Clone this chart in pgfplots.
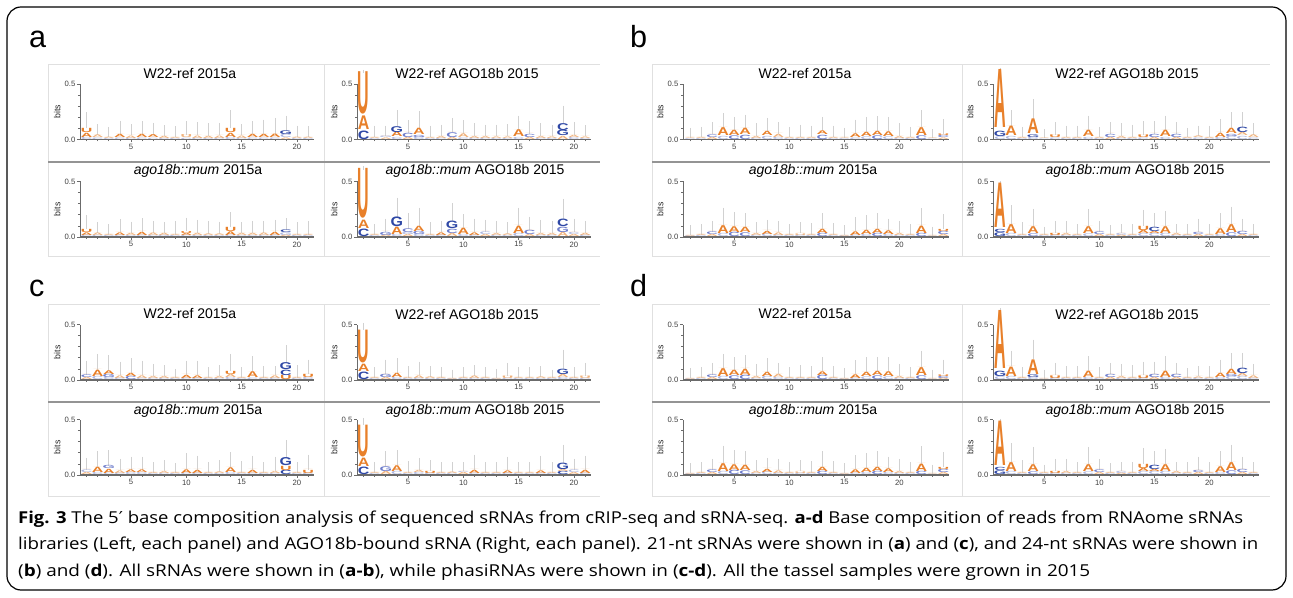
\documentclass[border=0pt]{standalone}
\usepackage{fontspec}
\setmainfont{Liberation Sans}
\newfontfamily\capfont{Open Sans}
\newfontfamily\djv{DejaVu Sans}
\usepackage{graphicx}
\usepackage{pgfplots}
\usepackage{pgfplotstable}
\pgfplotsset{compat=1.18}

\definecolor{logoO}{HTML}{E8802A}
\definecolor{logoB}{HTML}{2E47A5}
\definecolor{logoP}{HTML}{F0B27C}
\definecolor{logoL}{HTML}{AEB6DE}
\definecolor{logoM}{HTML}{6F7DCB}
\newcommand{\deflg}[2]{\expandafter\def\csname lg#1#2\endcsname{\textcolor{logo#2}{#1}}}
\deflg{A}{O}\deflg{A}{B}\deflg{A}{P}\deflg{A}{L}\deflg{A}{M}
\deflg{C}{O}\deflg{C}{B}\deflg{C}{P}\deflg{C}{L}\deflg{C}{M}
\deflg{G}{O}\deflg{G}{B}\deflg{G}{P}\deflg{G}{L}\deflg{G}{M}
\deflg{U}{O}\deflg{U}{B}\deflg{U}{P}\deflg{U}{L}\deflg{U}{M}

\pgfplotsset{
 logo/.style={
  scale only axis, height=55.5pt, ymin=0, ymax=0.5, clip=false,
  axis x line*=bottom, axis y line*=left,
  axis line style={-, draw=black!58},
  x axis line style={line width=1.6pt},
  y axis line style={line width=0.8pt},
  ytick={0,0.5}, yticklabels={0.0,0.5}, minor ytick={0.1,0.2,0.3,0.4},
  xtick={5,10,15,20}, xticklabels={5,10,15,20}, minor xtick={1,...,24},
  tick align=outside, major tick length=3pt, minor tick length=2pt,
  every tick/.style={draw=black!58, line width=0.6pt},
  /pgf/number format/assume math mode=true,
  ticklabel style={font=\fontsize{7.7}{8}\selectfont, text=black!75, inner sep=1.5pt},
  ylabel={bits}, ylabel style={font=\fontsize{8.8}{9}\selectfont, text=black!85, yshift=-1pt},
 }
}

\newcommand{\logolayer}[3]{%
 \addplot[draw=none, no markers, point meta=explicit symbolic,
   visualization depends on={\thisrow{h#3}\as\logoH},
   nodes near coords={\csname lg\pgfplotspointmeta\endcsname},
   every node near coord/.append style={anchor=north, inner sep=0pt, outer sep=0pt,
     font=\fontsize{10}{10}\selectfont\bfseries, xscale=1.6, yscale=15.2*\logoH}]
   table[x=x, y expr={#2}, meta=k#3] {#1};
}
\newcommand{\logoplot}[6]{%
\begin{axis}[logo, at={(#1pt,597pt-#2pt)}, anchor=south west, xmin=#3, xmax=#4, width=#5pt]
\addplot[draw=none, no markers, forget plot,
  error bars/.cd, y dir=plus, y explicit,
  error bar style={draw=black!18, line width=0.7pt},
  error mark=-, error mark options={draw=black!18, mark size=1.6pt, line width=0.6pt}]
  table[x=x, y expr=\thisrow{h1}+\thisrow{h2}+\thisrow{h3},
        y error expr=\thisrow{e}-\thisrow{h1}-\thisrow{h2}-\thisrow{h3}] {#6};
\logolayer{#6}{\thisrow{h1}}{1}
\logolayer{#6}{\thisrow{h1}+\thisrow{h2}}{2}
\logolayer{#6}{\thisrow{h1}+\thisrow{h2}+\thisrow{h3}}{3}
\end{axis}}

\pgfplotstableread{
x h1 k1 h2 k2 h3 k3 e
1 0.02 CL 0.04 AO 0.04 UO 0.23
2 0.015 CL 0.025 AP 0.002 AP 0.125
3 0.01 CL 0.012 AP 0.002 AP 0.10
4 0.015 CL 0.03 AO 0.002 AP 0.155
5 0.012 CL 0.023 AP 0.002 AP 0.125
6 0.015 CL 0.03 AO 0.002 AP 0.15
7 0.012 CL 0.028 AO 0.002 AP 0.135
8 0.01 CL 0.02 AP 0.002 AP 0.115
9 0.01 CL 0.01 AP 0.002 AP 0.105
10 0.012 CL 0.028 UP 0.002 AP 0.15
11 0.012 CL 0.023 AP 0.002 AP 0.14
12 0.01 CL 0.02 AP 0.002 AP 0.13
13 0.012 CL 0.023 AP 0.002 AP 0.135
14 0.02 CL 0.04 AO 0.04 UO 0.25
15 0.012 CL 0.023 AP 0.002 AP 0.125
16 0.015 CL 0.03 AO 0.002 AP 0.15
17 0.015 CL 0.03 AO 0.002 AP 0.165
18 0.015 CL 0.032 AO 0.002 AP 0.18
19 0.015 AP 0.03 CL 0.035 GB 0.2
20 0.01 CL 0.012 AP 0.002 AP 0.11
21 0.01 CL 0.012 AP 0.002 AP 0.105
}\tAtl
\pgfplotstableread{
x h1 k1 h2 k2 h3 k3 e
1 0.015 CL 0.025 AO 0.03 UO 0.18
2 0.012 CL 0.023 AP 0.002 AP 0.12
3 0.01 CL 0.01 AP 0.002 AP 0.10
4 0.015 CL 0.025 AO 0.002 AP 0.145
5 0.01 CL 0.02 AP 0.002 AP 0.125
6 0.015 CL 0.03 AO 0.002 AP 0.155
7 0.012 CL 0.023 AP 0.002 AP 0.13
8 0.015 GL 0.02 AP 0.002 AP 0.12
9 0.01 CL 0.01 AP 0.002 AP 0.13
10 0.012 CL 0.02 AO 0.018 UO 0.16
11 0.01 CL 0.02 AP 0.002 AP 0.14
12 0.01 CL 0.015 AP 0.002 AP 0.13
13 0.01 CL 0.015 AP 0.002 AP 0.125
14 0.015 CL 0.035 AO 0.04 UO 0.21
15 0.01 CL 0.02 AP 0.002 AP 0.12
16 0.01 CL 0.02 AP 0.002 AP 0.13
17 0.012 CL 0.023 AP 0.002 AP 0.13
18 0.015 CL 0.03 AO 0.002 AP 0.14
19 0.015 AP 0.025 GL 0.025 CB 0.155
20 0.01 CL 0.01 AP 0.002 AP 0.12
21 0.01 CL 0.01 AP 0.002 AP 0.13
}\tAbl
\pgfplotstableread{
x h1 k1 h2 k2 h3 k3 e
1 0.08 CB 0.13 AO 0.40 UO 0.612
2 0.01 CL 0.01 AP 0.002 AP 0.11
3 0.015 AP 0.015 GL 0.002 AP 0.11
4 0.02 CL 0.045 AO 0.055 GB 0.25
5 0.02 AP 0.04 CM 0.002 AP 0.16
6 0.02 CL 0.02 GM 0.06 AO 0.24
7 0.01 CL 0.01 AP 0.002 AP 0.11
8 0.012 CL 0.018 AP 0.002 AP 0.12
9 0.02 AP 0.045 CM 0.002 AP 0.18
10 0.015 CL 0.035 AP 0.002 AP 0.16
11 0.012 CL 0.018 AP 0.002 AP 0.13
12 0.012 CL 0.018 AP 0.002 AP 0.12
13 0.01 CL 0.015 AP 0.002 AP 0.12
14 0.01 CL 0.015 AP 0.002 AP 0.125
15 0.02 CL 0.065 AO 0.002 AP 0.20
16 0.02 AP 0.03 CM 0.002 AP 0.15
17 0.012 CL 0.018 AP 0.002 AP 0.13
18 0.01 CL 0.015 AP 0.002 AP 0.12
19 0.03 AP 0.05 GB 0.065 CB 0.29
20 0.02 CL 0.02 AP 0.002 AP 0.14
21 0.01 CL 0.015 AP 0.002 AP 0.115
}\tAtr
\pgfplotstableread{
x h1 k1 h2 k2 h3 k3 e
1 0.07 CB 0.08 AO 0.47 UO 0.622
2 0.01 CL 0.01 AP 0.002 AP 0.10
3 0.015 AP 0.03 GM 0.002 AP 0.15
4 0.02 CL 0.07 AO 0.09 GB 0.34
5 0.02 AP 0.02 GL 0.035 CM 0.2
6 0.02 CL 0.03 GM 0.05 AO 0.25
7 0.01 CL 0.01 AP 0.002 AP 0.12
8 0.015 CL 0.025 AO 0.002 AP 0.13
9 0.03 AP 0.04 CM 0.07 GB 0.29
10 0.02 CL 0.06 AO 0.002 AP 0.19
11 0.015 CL 0.025 AO 0.002 AP 0.15
12 0.02 AP 0.025 CL 0.002 AP 0.14
13 0.012 CL 0.018 AP 0.002 AP 0.13
14 0.01 CL 0.015 AP 0.002 AP 0.12
15 0.03 CL 0.07 AO 0.002 AP 0.25
16 0.02 AP 0.04 CM 0.002 AP 0.17
17 0.012 CL 0.018 AP 0.002 AP 0.14
18 0.012 CL 0.018 AP 0.002 AP 0.13
19 0.04 AP 0.05 GM 0.07 CB 0.33
20 0.02 AP 0.02 CL 0.002 AP 0.15
21 0.015 CL 0.02 AP 0.002 AP 0.13
}\tAbr
\pgfplotstableread{
x h1 k1 h2 k2 h3 k3 e
1 0.008 CL 0.007 AP 0.002 AP 0.09
2 0.01 CL 0.01 AP 0.002 AP 0.10
3 0.02 AP 0.025 CM 0.002 AP 0.14
4 0.03 CL 0.075 AO 0.002 AP 0.22
5 0.035 CM 0.05 AO 0.002 AP 0.19
6 0.04 CM 0.06 AO 0.002 AP 0.21
7 0.012 CL 0.018 AP 0.002 AP 0.13
8 0.03 CL 0.04 AO 0.002 AP 0.18
9 0.02 CL 0.03 AP 0.002 AP 0.14
10 0.01 CL 0.01 AP 0.002 AP 0.10
11 0.01 CL 0.01 AP 0.002 AP 0.12
12 0.01 CL 0.01 AP 0.002 AP 0.11
13 0.04 CM 0.035 AO 0.002 AP 0.19
14 0.01 CL 0.01 AP 0.002 AP 0.11
15 0.008 CL 0.007 AP 0.002 AP 0.09
16 0.015 CL 0.035 AO 0.002 AP 0.165
17 0.025 CL 0.04 AO 0.002 AP 0.19
18 0.035 CM 0.04 AO 0.002 AP 0.195
19 0.025 CL 0.045 AO 0.002 AP 0.19
20 0.012 CL 0.018 AP 0.002 AP 0.13
21 0.01 CL 0.01 AP 0.002 AP 0.10
22 0.035 CM 0.075 AO 0.002 AP 0.25
23 0.005 CL 0.005 AP 0.002 AP 0.08
24 0.015 AP 0.02 CM 0.015 UO 0.17
}\tBtl
\pgfplotstableread{
x h1 k1 h2 k2 h3 k3 e
1 0.008 CL 0.007 AP 0.002 AP 0.09
2 0.01 CL 0.01 AP 0.002 AP 0.10
3 0.02 AP 0.025 CM 0.002 AP 0.13
4 0.03 CL 0.075 AO 0.002 AP 0.25
5 0.04 CM 0.055 AO 0.002 AP 0.21
6 0.035 CM 0.05 AO 0.002 AP 0.20
7 0.012 CL 0.018 AP 0.002 AP 0.12
8 0.025 CL 0.03 AO 0.002 AP 0.14
9 0.015 CL 0.025 AP 0.002 AP 0.13
10 0.01 CL 0.01 AP 0.002 AP 0.10
11 0.015 CL 0.015 UP 0.002 AP 0.12
12 0.01 CL 0.01 AP 0.002 AP 0.11
13 0.03 CM 0.04 AO 0.002 AP 0.20
14 0.01 CL 0.01 AP 0.002 AP 0.11
15 0.008 CL 0.007 AP 0.002 AP 0.09
16 0.015 CL 0.035 AO 0.002 AP 0.165
17 0.02 CL 0.04 AO 0.002 AP 0.18
18 0.03 CM 0.04 AO 0.002 AP 0.20
19 0.02 CL 0.035 AO 0.002 AP 0.15
20 0.012 CL 0.018 AP 0.002 AP 0.13
21 0.01 CL 0.01 AP 0.002 AP 0.10
22 0.03 CM 0.07 AO 0.002 AP 0.245
23 0.005 CL 0.005 AP 0.002 AP 0.08
24 0.02 AP 0.03 CM 0.02 UO 0.19
}\tBbl
\pgfplotstableread{
x h1 k1 h2 k2 h3 k3 e
1 0.025 CL 0.05 GB 0.555 AO 0.631
2 0.03 CL 0.09 AO 0.002 AP 0.25
3 0.01 CL 0.01 AP 0.002 AP 0.10
4 0.02 CL 0.025 GB 0.14 AO 0.35
5 0.005 CL 0.005 AP 0.002 AP 0.08
6 0.015 CL 0.025 UO 0.002 AP 0.14
7 0.01 CL 0.01 AP 0.002 AP 0.11
8 0.01 CL 0.01 AP 0.002 AP 0.11
9 0.02 CL 0.06 AO 0.002 AP 0.20
10 0.01 CL 0.01 AP 0.002 AP 0.10
11 0.02 AP 0.03 CM 0.002 AP 0.14
12 0.012 CL 0.018 AP 0.002 AP 0.13
13 0.01 CL 0.01 AP 0.002 AP 0.12
14 0.015 CL 0.025 UO 0.002 AP 0.15
15 0.02 AP 0.03 CM 0.002 AP 0.15
16 0.02 CL 0.06 AO 0.002 AP 0.20
17 0.02 AP 0.03 CM 0.002 AP 0.14
18 0.01 CL 0.01 AP 0.002 AP 0.09
19 0.015 CL 0.015 AP 0.002 AP 0.11
20 0.01 CL 0.01 AP 0.002 AP 0.11
21 0.02 CL 0.04 AO 0.002 AP 0.17
22 0.03 CL 0.02 GM 0.05 AO 0.23
23 0.03 CL 0.03 AP 0.05 CB 0.23
24 0.015 CL 0.025 AP 0.002 AP 0.13
}\tBtr
\pgfplotstableread{
x h1 k1 h2 k2 h3 k3 e
1 0.035 GB 0.03 CB 0.425 AO 0.491
2 0.03 CL 0.085 AO 0.002 AP 0.27
3 0.01 CL 0.01 AP 0.002 AP 0.12
4 0.025 CM 0.065 AO 0.002 AP 0.24
5 0.01 CL 0.01 AP 0.002 AP 0.08
6 0.015 CL 0.02 UO 0.002 AP 0.13
7 0.012 CL 0.018 AP 0.002 AP 0.13
8 0.01 CL 0.01 AP 0.002 AP 0.10
9 0.025 CL 0.065 AO 0.002 AP 0.24
10 0.02 AP 0.025 CM 0.002 AP 0.13
11 0.01 CL 0.01 AP 0.002 AP 0.09
12 0.015 AP 0.02 CL 0.002 AP 0.10
13 0.01 CL 0.01 AP 0.002 AP 0.10
14 0.03 CL 0.03 AO 0.04 UO 0.23
15 0.03 CL 0.02 AO 0.04 CB 0.20
16 0.03 CL 0.065 AO 0.002 AP 0.22
17 0.012 CL 0.018 AP 0.002 AP 0.10
18 0.01 CL 0.01 AP 0.002 AP 0.10
19 0.02 AP 0.02 CM 0.002 AP 0.15
20 0.01 CL 0.01 AP 0.002 AP 0.10
21 0.02 CL 0.055 AO 0.002 AP 0.20
22 0.035 CM 0.075 AO 0.002 AP 0.26
23 0.02 AP 0.03 CM 0.002 AP 0.15
24 0.01 CL 0.01 AP 0.002 AP 0.10
}\tBbr
\pgfplotstableread{
x h1 k1 h2 k2 h3 k3 e
1 0.02 AP 0.025 CM 0.002 AP 0.16
2 0.03 CL 0.06 AO 0.002 AP 0.22
3 0.02 CL 0.03 GM 0.035 AO 0.21
4 0.015 CL 0.025 AP 0.002 AP 0.15
5 0.03 CM 0.03 AO 0.002 AP 0.18
6 0.015 CL 0.025 AP 0.002 AP 0.16
7 0.012 CL 0.018 AP 0.002 AP 0.13
8 0.012 CL 0.018 AP 0.002 AP 0.12
9 0.01 CL 0.01 AP 0.002 AP 0.085
10 0.015 CL 0.03 AO 0.002 AP 0.16
11 0.015 CL 0.025 AO 0.002 AP 0.16
12 0.01 CL 0.01 AP 0.002 AP 0.10
13 0.012 CL 0.018 AP 0.002 AP 0.12
14 0.02 CL 0.03 AP 0.03 UO 0.22
15 0.01 CL 0.01 AP 0.002 AP 0.10
16 0.015 CL 0.055 AO 0.002 AP 0.20
17 0.01 CL 0.01 AP 0.002 AP 0.11
18 0.015 CL 0.025 AP 0.002 AP 0.11
19 0.04 UO 0.05 CB 0.065 GB 0.30
20 0.01 CL 0.01 AP 0.002 AP 0.12
21 0.02 CL 0.03 UO 0.002 AP 0.17
}\tCtl
\pgfplotstableread{
x h1 k1 h2 k2 h3 k3 e
1 0.02 AP 0.025 CL 0.002 AP 0.14
2 0.02 CL 0.05 AO 0.002 AP 0.20
3 0.015 CL 0.04 AO 0.03 GM 0.21
4 0.015 CL 0.025 AP 0.002 AP 0.13
5 0.02 CL 0.025 AO 0.002 AP 0.15
6 0.02 CL 0.025 AO 0.002 AP 0.15
7 0.01 CL 0.01 AP 0.002 AP 0.10
8 0.012 CL 0.018 AP 0.002 AP 0.12
9 0.01 CL 0.01 AP 0.002 AP 0.09
10 0.015 CL 0.035 AO 0.002 AP 0.18
11 0.015 CL 0.03 AO 0.002 AP 0.16
12 0.01 CL 0.01 AP 0.002 AP 0.10
13 0.01 CL 0.015 AP 0.002 AP 0.12
14 0.02 CL 0.045 AO 0.002 AP 0.19
15 0.01 CL 0.01 AP 0.002 AP 0.11
16 0.015 CL 0.03 AO 0.002 AP 0.16
17 0.01 CL 0.01 AP 0.002 AP 0.10
18 0.012 CL 0.018 AP 0.002 AP 0.15
19 0.04 CB 0.04 UO 0.075 GB 0.30
20 0.01 CL 0.01 AP 0.002 AP 0.10
21 0.015 CL 0.03 UO 0.002 AP 0.17
}\tCbl
\pgfplotstableread{
x h1 k1 h2 k2 h3 k3 e
1 0.07 CB 0.07 AO 0.31 UO 0.50
2 0.01 CL 0.01 AP 0.002 AP 0.10
3 0.02 AP 0.03 GM 0.002 AP 0.17
4 0.02 CL 0.04 AO 0.002 AP 0.18
5 0.01 CL 0.01 AP 0.002 AP 0.11
6 0.015 CL 0.025 AP 0.002 AP 0.15
7 0.01 CL 0.015 AP 0.002 AP 0.11
8 0.01 CL 0.01 AP 0.002 AP 0.10
9 0.008 CL 0.007 AP 0.002 AP 0.08
10 0.01 CL 0.01 AP 0.002 AP 0.10
11 0.012 CL 0.023 AP 0.002 AP 0.12
12 0.01 CL 0.01 AP 0.002 AP 0.10
13 0.008 CL 0.007 AP 0.002 AP 0.085
14 0.012 CL 0.023 UP 0.002 AP 0.14
15 0.01 CL 0.01 AP 0.002 AP 0.10
16 0.01 CL 0.01 AP 0.002 AP 0.10
17 0.01 CL 0.015 AP 0.002 AP 0.11
18 0.01 CL 0.01 AP 0.002 AP 0.08
19 0.02 CL 0.03 AP 0.05 GB 0.26
20 0.01 CL 0.01 AP 0.002 AP 0.10
21 0.012 CL 0.023 UP 0.002 AP 0.14
}\tCtr
\pgfplotstableread{
x h1 k1 h2 k2 h3 k3 e
1 0.07 CB 0.08 AO 0.30 UO 0.50
2 0.01 CL 0.01 AP 0.002 AP 0.10
3 0.03 AP 0.045 GM 0.002 AP 0.20
4 0.03 CL 0.055 AO 0.002 AP 0.21
5 0.01 CL 0.01 AP 0.002 AP 0.11
6 0.02 CL 0.02 AP 0.002 AP 0.14
7 0.015 CL 0.02 UO 0.002 AP 0.12
8 0.01 CL 0.01 AP 0.002 AP 0.10
9 0.012 CL 0.013 AP 0.002 AP 0.10
10 0.02 AP 0.01 CL 0.002 AP 0.10
11 0.015 CL 0.03 AO 0.002 AP 0.17
12 0.01 CL 0.01 AP 0.002 AP 0.10
13 0.01 CL 0.01 AP 0.002 AP 0.10
14 0.015 CL 0.025 AO 0.002 AP 0.15
15 0.01 CL 0.01 AP 0.002 AP 0.10
16 0.01 CL 0.01 AP 0.002 AP 0.10
17 0.015 CL 0.025 AO 0.002 AP 0.16
18 0.01 CL 0.01 AP 0.002 AP 0.10
19 0.03 CB 0.02 AP 0.06 GB 0.26
20 0.02 AP 0.025 CL 0.002 AP 0.13
21 0.015 CL 0.03 AO 0.002 AP 0.16
}\tCbr

\newcommand{\ttl}[3]{\node[font=\fontsize{14}{15}\selectfont, inner sep=0pt] at (#1pt,597pt-#2pt) {#3};}
\newcommand{\plab}[3]{\node[anchor=base west, inner sep=0pt, font=\fontsize{30.6}{31}\selectfont] at (#1pt,597pt-#2pt) {#3};}
\newcommand{\frames}[5]{%
  \draw[black!12, line width=1pt] (#1pt,#4pt) -- (#3pt,#4pt);
  \draw[black!12, line width=1pt] (#1pt,#4pt) -- (#1pt,#4pt-192pt) -- (#3pt,#4pt-192pt);
  \draw[black!12, line width=1pt] (#2pt,#4pt) -- (#2pt,#4pt-192pt);
  \draw[black!42, line width=2.2pt] (#1pt,#5pt) -- (#3pt,#5pt);
}

\begin{document}
\begin{tikzpicture}
\useasboundingbox (0,0) rectangle (1293pt,597pt);
\draw[line width=1.2pt, rounded corners=14pt] (7pt,7pt) rectangle (1286pt,590pt);
\frames{48}{324}{600}{532}{435}
\frames{652}{962}{1270}{532}{435}
\frames{48}{324}{600}{292}{195}
\frames{652}{962}{1270}{292}{195}

\logoplot{80}{139.5}{0.4}{21.5}{233.6}{\tAtl}
\logoplot{357}{139.5}{0.4}{21.5}{233.6}{\tAtr}
\logoplot{80}{237}{0.4}{21.5}{233.6}{\tAbl}
\logoplot{357}{237}{0.4}{21.5}{233.6}{\tAbr}
\logoplot{683}{139.5}{0.35}{24.5}{266}{\tBtl}
\logoplot{993}{139.5}{0.35}{24.5}{266}{\tBtr}
\logoplot{683}{237}{0.35}{24.5}{266}{\tBbl}
\logoplot{993}{237}{0.35}{24.5}{266}{\tBbr}
\logoplot{80}{380}{0.4}{21.5}{233.6}{\tCtl}
\logoplot{357}{380}{0.4}{21.5}{233.6}{\tCtr}
\logoplot{80}{475}{0.4}{21.5}{233.6}{\tCbl}
\logoplot{357}{475}{0.4}{21.5}{233.6}{\tCbr}
\logoplot{683}{380}{0.35}{24.5}{266}{\tBtl}
\logoplot{993}{380}{0.35}{24.5}{266}{\tBtr}
\logoplot{683}{475}{0.35}{24.5}{266}{\tBbl}
\logoplot{993}{475}{0.35}{24.5}{266}{\tBbr}

\ttl{190}{74}{W22-ref 2015a}
\ttl{467}{74}{W22-ref AGO18b 2015}
\ttl{198}{171}{\textit{ago18b::mum} 2015a}
\ttl{475}{171}{\textit{ago18b::mum} AGO18b 2015}
\ttl{805}{74}{W22-ref 2015a}
\ttl{1127}{74}{W22-ref AGO18b 2015}
\ttl{813}{171}{\textit{ago18b::mum} 2015a}
\ttl{1135}{171}{\textit{ago18b::mum} AGO18b 2015}
\ttl{190}{314}{W22-ref 2015a}
\ttl{467}{314}{W22-ref AGO18b 2015}
\ttl{198}{411}{\textit{ago18b::mum} 2015a}
\ttl{475}{411}{\textit{ago18b::mum} AGO18b 2015}
\ttl{805}{314}{W22-ref 2015a}
\ttl{1127}{314}{W22-ref AGO18b 2015}
\ttl{813}{411}{\textit{ago18b::mum} 2015a}
\ttl{1135}{411}{\textit{ago18b::mum} AGO18b 2015}

\plab{29}{48}{a}
\plab{630}{48}{b}
\plab{29}{297}{c}
\plab{630}{297}{d}

\node[anchor=base west, inner sep=0pt] at (18pt,73pt) {\resizebox{1225pt}{\height}{\capfont\fontsize{16.4}{18}\selectfont\textbf{Fig. 3} The 5{\djv ′} base composition analysis of sequenced sRNAs from cRIP-seq and sRNA-seq. \textbf{a-d} Base composition of reads from RNAome sRNAs}};
\node[anchor=base west, inner sep=0pt] at (18pt,47pt) {\resizebox{1240pt}{\height}{\capfont\fontsize{16.4}{18}\selectfont libraries (Left, each panel) and AGO18b-bound sRNA (Right, each panel). 21-nt sRNAs were shown in (\textbf{a}) and (\textbf{c}), and 24-nt sRNAs were shown in}};
\node[anchor=base west, inner sep=0pt] at (18pt,21pt) {\resizebox{1072pt}{\height}{\capfont\fontsize{16.4}{18}\selectfont (\textbf{b}) and (\textbf{d}). All sRNAs were shown in (\textbf{a-b}), while phasiRNAs were shown in (\textbf{c-d}). All the tassel samples were grown in 2015}};
\end{tikzpicture}
\end{document}
